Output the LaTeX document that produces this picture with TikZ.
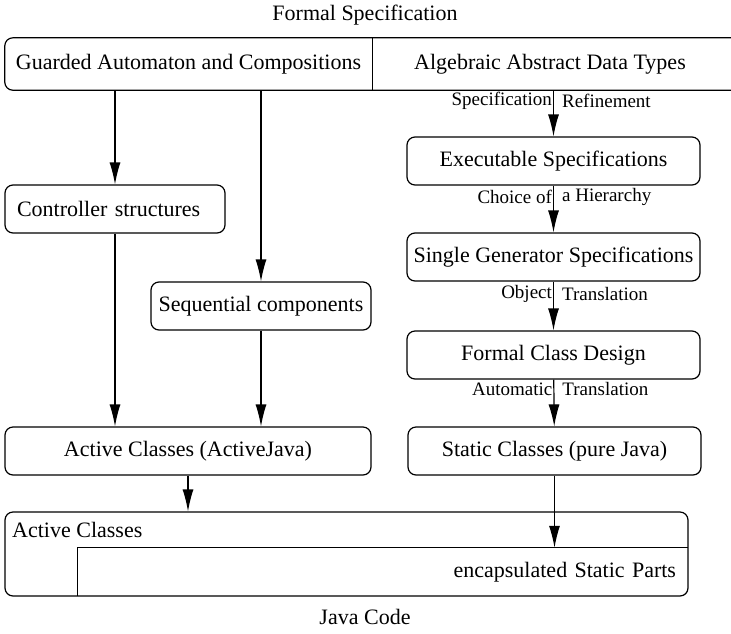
\documentclass[tikz,border=0pt]{standalone}
\usepackage{fontspec}
\setmainfont{Liberation Serif}
\usetikzlibrary{arrows.meta,positioning}

\newcommand{\boxfont}{\fontsize{22}{26}\selectfont}
\newcommand{\edgefont}{\fontsize{19}{22}\selectfont}

\tikzstyle{process} = [rectangle, rounded corners=8pt, minimum height=48pt, text centered, draw=black, line width=1.2pt, font=\boxfont]
\tikzstyle{plain} = [rectangle, inner sep=0pt, font=\boxfont]
\tikzstyle{arrow} = [line width=1.2pt,-{Latex[length=22pt,width=11pt]}]
\tikzstyle{leftlabel} = [anchor=east, inner xsep=1pt, font=\edgefont]
\tikzstyle{rightlabel} = [anchor=west, inner xsep=8pt, font=\edgefont]

\begin{document}
\begin{tikzpicture}[x=1pt, y=-1pt]
	\useasboundingbox (0,0) rectangle (731,633);
	% Place nodes
	\node [plain] (FormalSpecification) at (365,15) {Formal Specification};
	\node [plain, minimum width=367pt, minimum height=52pt] (GuardedAutomaton) at (188.5,64) {Guarded Automaton and Compositions};
	\node [plain, minimum width=356pt, minimum height=52pt] (AlgebraicTypes) at (550,64) {Algebraic Abstract Data Types};
	\node [process, text width=196pt, inner xsep=12pt, align=left] (ControllerStructures) at (115,209) {Controller structures};
	\node [process, minimum width=220pt] (SequentialComponents) at (261,306) {Sequential components};
	\node [process, minimum width=293pt] (ExecutableSpecifications) at (553.5,161) {Executable Specifications};
	\node [process, minimum width=293pt] (SingleGeneratorSpecifications) at (553.5,257) {Single Generator Specifications};
	\node [process, minimum width=293pt] (FormalClassDesign) at (553.5,355) {Formal Class Design};
	\node [process, minimum width=293pt] (StaticClasses) at (554.5,451) {Static Classes (pure Java)};
	\node [process, minimum width=366pt] (ActiveJavaClasses) at (188,451) {Active Classes (ActiveJava)};
	\node [process, minimum width=683pt, minimum height=84pt] (ActiveClasses) at (346.5,554) {};
	\node [plain, anchor=west] (ActiveClassesTitle) at (12,530) {Active Classes};
	\node [plain, minimum width=610pt, minimum height=48pt, text width=586pt, align=right] (StaticParts) at (383,572) {encapsulated Static Parts};
	\node [plain] (JavaCode) at (365,617) {Java Code};
	% Draw frames
	\draw [line width=1.2pt, rounded corners=8pt] ([xshift=20pt]AlgebraicTypes.north east) -- (GuardedAutomaton.north west) -- (GuardedAutomaton.south west) -- ([xshift=20pt]AlgebraicTypes.south east);
	\draw [line width=1.2pt] (GuardedAutomaton.north east) -- (GuardedAutomaton.south east);
	\draw [line width=1.2pt] (StaticParts.south west) |- (StaticParts.north east);
	% Draw edges
	\draw [arrow] (GuardedAutomaton.south -| ControllerStructures.north) -- (ControllerStructures.north);
	\draw [arrow] (GuardedAutomaton.south -| SequentialComponents.north) -- (SequentialComponents.north);
	\draw [arrow] (ControllerStructures.south) -- (ControllerStructures.south |- ActiveJavaClasses.north);
	\draw [arrow] (SequentialComponents.south) -- (SequentialComponents.south |- ActiveJavaClasses.north);
	\draw [arrow] (ActiveJavaClasses.south) -- (ActiveJavaClasses.south |- ActiveClasses.north);
	\draw [arrow] (AlgebraicTypes.south -| ExecutableSpecifications.north) -- node [pos=0.24, leftlabel] {Specification} node [pos=0.24, rightlabel] {Refinement} (ExecutableSpecifications.north);
	\draw [arrow] (ExecutableSpecifications) -- node [pos=0.25, leftlabel] {Choice of} node [pos=0.25, rightlabel] {a Hierarchy} (SingleGeneratorSpecifications);
	\draw [arrow] (SingleGeneratorSpecifications) -- node [pos=0.26, leftlabel] {Object} node [pos=0.26, rightlabel] {Translation} (FormalClassDesign);
	\draw [arrow] (FormalClassDesign) -- node [pos=0.2, leftlabel] {Automatic} node [pos=0.2, rightlabel] {Translation} (StaticClasses);
	\draw [arrow] (StaticClasses.south) -- (StaticClasses.south |- StaticParts.north);
\end{tikzpicture}
\end{document}
